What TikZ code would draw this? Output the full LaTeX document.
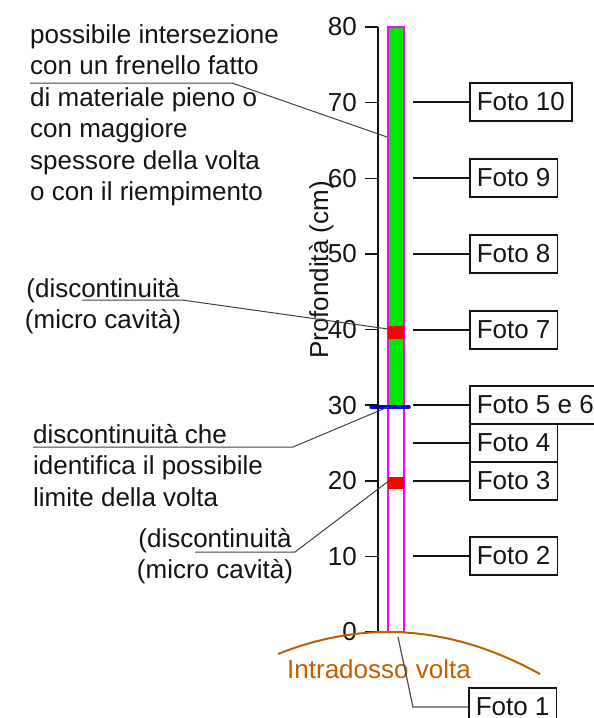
\documentclass[tikz,border=0pt]{standalone}
\usepackage{fontspec}
\setmainfont{Liberation Sans}
\definecolor{bargreen}{RGB}{0,230,0}
\definecolor{barmag}{RGB}{255,0,255}
\definecolor{barred}{RGB}{255,0,0}
\definecolor{barblue}{RGB}{0,0,255}
\definecolor{vbrown}{RGB}{192,96,0}
\definecolor{txt}{RGB}{20,20,20}
\begin{document}
\begin{tikzpicture}[x=1pt,y=-1pt,
  every node/.style={font={\fontsize{26}{31.5}\selectfont}, text=txt, inner sep=0pt},
  axisline/.style={line width=1.5pt, txt},
  fotobox/.style={draw=txt, line width=1.5pt, minimum height=38pt, inner xsep=7pt, anchor=west},
  fotolead/.style={line width=1.5pt, txt},
  notelead/.style={line width=1pt, black!75},
  ticklbl/.style={anchor=east},
  blocktxt/.style={align=left}
]
\useasboundingbox (0,0) rectangle (594,718);

% bar
\fill[bargreen] (388,27) rectangle (404,406);
\draw[barmag, line width=1.5pt] (388,27) rectangle (404,632);
\fill[barred] (388,326) rectangle (404,339);
\fill[barred] (388,477) rectangle (404,489);
\draw[barblue, line width=3.5pt, line cap=round] (371,407) -- (409,407);

% axis
\draw[axisline] (378,27) -- (378,632);
\foreach \v in {0,10,...,80}{
  \pgfmathsetmacro{\yy}{632-7.5625*\v}
  \draw[axisline] (365,\yy) -- (378,\yy);
  \node[ticklbl] (t\v) at (357,\yy) {\v};
}
\node[rotate=90, anchor=base] (ylab) at (328,270) {Profondità (cm)};

% intradosso
\draw[vbrown, line width=2pt] plot[domain=278:540, samples=80] (\x, {632+(0.04266*(\x-388))^2});
\node[text=vbrown, anchor=base west] (intr) at (287,678) {Intradosso volta};

% photo boxes
\node[fotobox] (f10) at (469,102) {Foto 10};
\node[fotobox] (f9) at (469,178) {Foto 9};
\node[fotobox] (f8) at (469,254) {Foto 8};
\node[fotobox] (f7) at (469,330) {Foto 7};
\node[fotobox] (f56) at (469,405) {Foto 5 e 6};
\node[fotobox] (f4) at (469,443) {Foto 4};
\node[fotobox] (f3) at (469,481) {Foto 3};
\node[fotobox] (f2) at (469,556) {Foto 2};
\node[fotobox] (f1) at (468,707) {Foto 1};

\coordinate (p10) at (413,102);
\coordinate (p9) at (413,178);
\coordinate (p8) at (413,254);
\coordinate (p7) at (413,330);
\coordinate (p56) at (413,405);
\coordinate (p4) at (413,443);
\coordinate (p3) at (413,481);
\coordinate (p2) at (413,556);
\foreach \n in {10,9,8,7,56,4,3,2}{
  \draw[fotolead] (p\n) -- (f\n.west);
}
\coordinate (p1) at (398,637);
\coordinate (k1) at (413,707);
\draw[line width=1.2pt, black!70] (p1) -- (k1) -- (f1.west);

% notes
\node[blocktxt, anchor=north west] (nA) at (30,24) {possibile intersezione\\con un frenello fatto\\di materiale pieno o\\con maggiore\\spessore della volta\\o con il riempimento};
\coordinate (aS) at (30,83);
\coordinate (aK) at (232,83);
\coordinate (aE) at (387,137);
\draw[notelead] (aS) -- (aK) -- (aE);

\node[align=center, anchor=north] (nB) at (103,278) {(discontinuità\\(micro cavità)};
\coordinate (bS) at (82,300);
\coordinate (bK) at (182,300);
\coordinate (bE) at (388,329);
\draw[notelead] (bS) -- (bK) -- (bE);

\node[blocktxt, anchor=north west] (nC) at (33,424) {discontinuità che\\identifica il possibile\\limite della volta};
\coordinate (cS) at (33,447);
\coordinate (cK) at (293,447);
\coordinate (cE) at (388,407);
\draw[notelead] (cS) -- (cK) -- (cE);

\node[align=center, anchor=north] (nD) at (215,528) {(discontinuità\\(micro cavità)};
\coordinate (dS) at (195,552);
\coordinate (dK) at (295,552);
\coordinate (dE) at (390,480);
\draw[notelead] (dS) -- (dK) -- (dE);
\end{tikzpicture}
\end{document}
